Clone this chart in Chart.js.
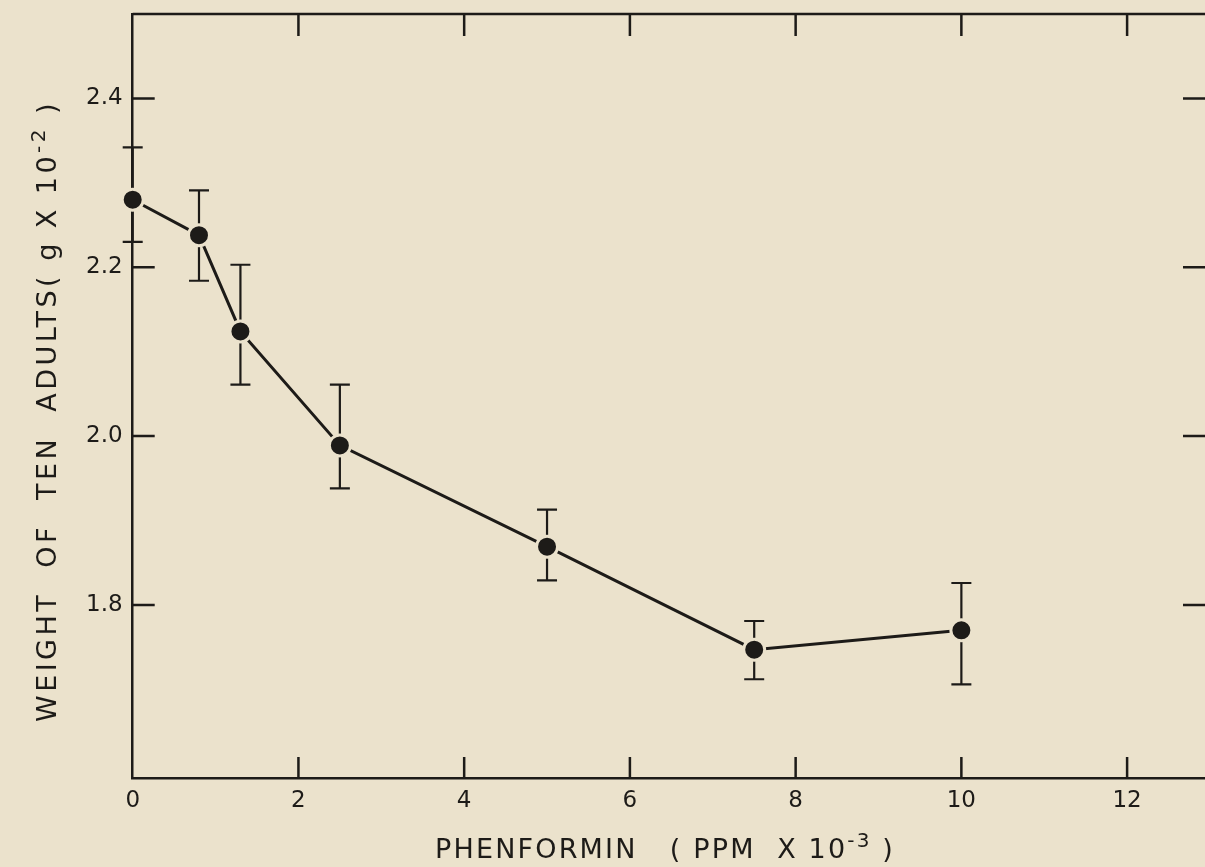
<!DOCTYPE html>
<html>
<head>
<meta charset="utf-8">
<script src="https://cdn.jsdelivr.net/npm/chart.js@4"></script>
<style>
  html, body { margin: 0; padding: 0; background: #ebe2cc; overflow: hidden; }
  canvas { display: block; }
</style>
</head>
<body>
<canvas id="chart" width="1205" height="867"></canvas>
<script>
// data
const doses = [0, 0.8, 1.3, 2.5, 5, 7.5, 10];
const weights = [2.28, 2.238, 2.124, 1.989, 1.869, 1.747, 1.77];
const errHigh = [2.342, 2.291, 2.203, 2.061, 1.913, 1.781, 1.826];
const errLow = [2.23, 2.184, 2.061, 1.938, 1.829, 1.712, 1.706];

const xTicks = [0, 2, 4, 6, 8, 10, 12];
const yTicks = [1.8, 2.0, 2.2, 2.4];

// title pieces: text, exponent, closing
const xTitle = ["PHENFORMIN   ( PPM  X 10", "-3", " )"];
const yTitle = ["WEIGHT  OF  TEN  ADULTS( g X 10", "-2", " )"];

const ink = "#1d1b18";
const paper = "#ebe2cc";

// error bars, drawn under the points so the point halo cuts them
const errorBars = {
  id: "errorBars",
  beforeDatasetsDraw(chart) {
    const { ctx, scales: { x, y } } = chart;
    ctx.save();
    ctx.strokeStyle = ink;
    ctx.lineWidth = 2.2;
    doses.forEach((d, i) => {
      const px = x.getPixelForValue(d);
      const top = y.getPixelForValue(errHigh[i]);
      const bot = y.getPixelForValue(errLow[i]);
      ctx.beginPath();
      ctx.moveTo(px, top); ctx.lineTo(px, bot);
      ctx.moveTo(px - 10, top); ctx.lineTo(px + 10, top);
      ctx.moveTo(px - 10, bot); ctx.lineTo(px + 10, bot);
      ctx.stroke();
    });
    ctx.restore();
  }
};

// top border and inward tick marks on all four sides
const frameTicks = {
  id: "frameTicks",
  afterDraw(chart) {
    const { ctx, chartArea: a, scales: { x, y } } = chart;
    ctx.save();
    ctx.strokeStyle = ink;
    ctx.lineWidth = 2.5;
    ctx.beginPath();
    ctx.moveTo(a.left, a.top); ctx.lineTo(a.right, a.top);
    xTicks.forEach(v => {
      if (v === 0) return;
      const px = x.getPixelForValue(v);
      ctx.moveTo(px, a.bottom); ctx.lineTo(px, a.bottom - 21);
      ctx.moveTo(px, a.top); ctx.lineTo(px, a.top + 22);
    });
    yTicks.forEach(v => {
      const py = y.getPixelForValue(v);
      ctx.moveTo(a.left, py); ctx.lineTo(a.left + 22, py);
      ctx.moveTo(a.right, py); ctx.lineTo(a.right - 22, py);
    });
    ctx.stroke();
    ctx.restore();
  }
};

// axis titles with the wide lettering and raised exponent of the original
const mainFont = "27px 'DejaVu Sans'";
const supFont = "20px 'DejaVu Sans'";

function drawTitle(ctx, parts, cx, baseY, width) {
  const fonts = [mainFont, supFont, mainFont];
  ctx.letterSpacing = "0px";
  let base = 0, chars = 0;
  const w = parts.map((t, i) => {
    ctx.font = fonts[i];
    const m = ctx.measureText(t).width;
    base += m; chars += t.length;
    return m;
  });
  const sp = Math.max(0, (width - base) / chars);
  ctx.letterSpacing = sp + "px";
  let x = cx - width / 2;
  parts.forEach((t, i) => {
    ctx.font = fonts[i];
    ctx.fillText(t, x, baseY - (i === 1 ? 11 : 0));
    x += w[i] + sp * t.length;
  });
}

const axisTitles = {
  id: "axisTitles",
  afterDraw(chart) {
    const { ctx } = chart;
    ctx.save();
    ctx.fillStyle = ink;
    ctx.textAlign = "left";
    ctx.textBaseline = "alphabetic";
    drawTitle(ctx, xTitle, 665, 858, 460);
    ctx.translate(46, 411);
    ctx.rotate(-Math.PI / 2);
    drawTitle(ctx, yTitle, 0, 10, 622);
    ctx.restore();
  }
};

const tickFont = { family: "DejaVu Sans", size: 23 };

function noPad(s) {
  s.paddingTop = 0; s.paddingBottom = 0;
  s.paddingLeft = 0; s.paddingRight = 0;
}

new Chart(document.getElementById("chart"), {
  type: "line",
  data: {
    datasets: [{
      data: doses.map((d, i) => ({ x: d, y: weights[i] })),
      borderColor: ink,
      borderWidth: 3,
      pointRadius: 10.5,
      pointBackgroundColor: ink,
      pointBorderColor: paper,
      pointBorderWidth: 3,
      tension: 0,
      clip: false
    }]
  },
  options: {
    responsive: false,
    animation: false,
    layout: { autoPadding: false, padding: { top: 14, right: 0, left: 0, bottom: 0 } },
    plugins: { legend: { display: false }, tooltip: { enabled: false } },
    scales: {
      x: {
        type: "linear",
        min: 0,
        max: 12.94,
        afterBuildTicks: s => { s.ticks = xTicks.map(v => ({ value: v })); },
        afterFit: s => { s.height = 89; noPad(s); },
        ticks: { font: tickFont, color: ink, padding: 9, maxRotation: 0,
          callback: v => String(v) },
        grid: { display: false, drawTicks: false },
        border: { display: true, color: ink, width: 2.5 }
      },
      y: {
        type: "linear",
        min: 1.595,
        max: 2.5,
        afterBuildTicks: s => { s.ticks = yTicks.map(v => ({ value: v })); },
        afterFit: s => { s.width = 132.7; noPad(s); },
        ticks: { font: tickFont, color: ink, padding: 10,
          callback: v => v.toFixed(1) },
        grid: { display: false, drawTicks: false },
        border: { display: true, color: ink, width: 2.5 }
      }
    }
  },
  plugins: [errorBars, frameTicks, axisTitles]
});
</script>
</body>
</html>
